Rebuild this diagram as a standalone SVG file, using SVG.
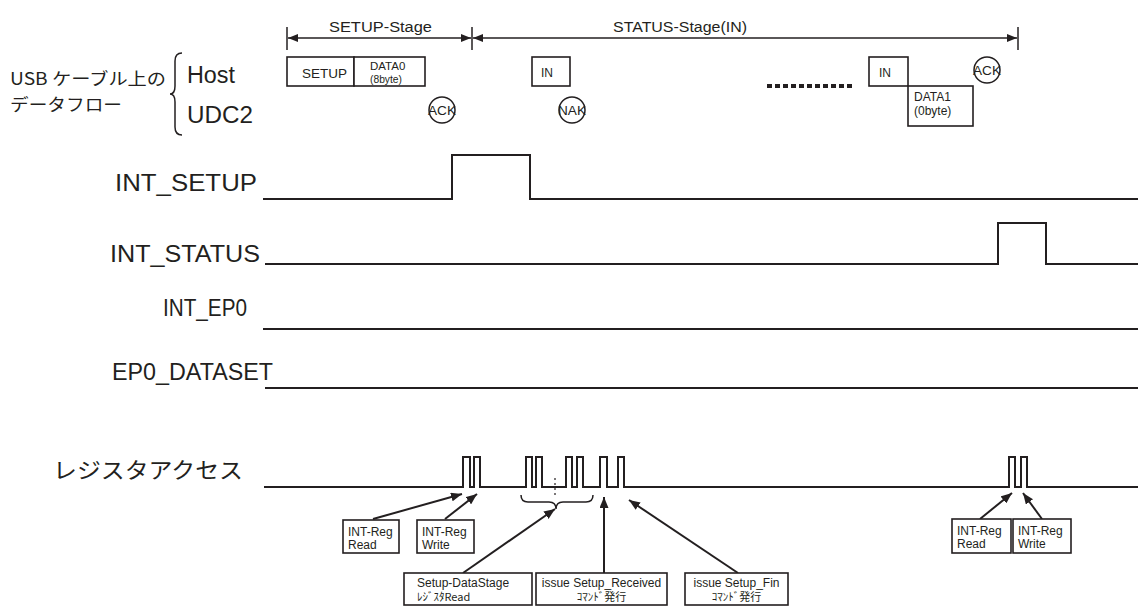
<svg xmlns="http://www.w3.org/2000/svg" width="1140" height="606" viewBox="0 0 1140 606">
<style>
.t{font-family:"Liberation Sans","Noto Sans CJK JP",sans-serif;fill:#231f20}
.jp{font-family:"Noto Sans CJK JP","Liberation Sans",sans-serif;fill:#231f20}
.ln{fill:none;stroke:#231f20;stroke-width:2}
.box{fill:#fff;stroke:#231f20;stroke-width:1.6}
.thin{fill:none;stroke:#231f20;stroke-width:1.5}
.arr{fill:none;stroke:#231f20;stroke-width:2}
</style>
<defs>
<marker id="ah" markerUnits="userSpaceOnUse" markerWidth="11" markerHeight="8" refX="10" refY="4" orient="auto-start-reverse"><path d="M0,0 L10,4 L0,8 z" fill="#231f20"/></marker>
<marker id="ab" markerUnits="userSpaceOnUse" markerWidth="12" markerHeight="9" refX="11" refY="4.5" orient="auto"><path d="M0,0 L11,4.5 L0,9 z" fill="#231f20"/></marker>
</defs>
<rect width="1140" height="606" fill="#fff"/>

<g id="stage-arrows">
<line class="thin" x1="287" y1="27" x2="287" y2="50"/>
<line class="thin" x1="472" y1="27" x2="472" y2="50"/>
<line class="thin" x1="1018" y1="27" x2="1018" y2="50"/>
<line class="thin" x1="288" y1="38" x2="471" y2="38" marker-start="url(#ah)" marker-end="url(#ah)"/>
<line class="thin" x1="473" y1="38" x2="1017" y2="38" marker-start="url(#ah)" marker-end="url(#ah)"/>
<text class="t" x="329" y="32" font-size="15.5" textLength="103" lengthAdjust="spacingAndGlyphs">SETUP-Stage</text>
<text class="t" x="613" y="32" font-size="15.5" textLength="134" lengthAdjust="spacingAndGlyphs">STATUS-Stage(IN)</text>
</g>

<g id="dataflow-label">
<text class="jp" x="10" y="85" font-size="17" textLength="156" lengthAdjust="spacingAndGlyphs">USB ケーブル上の</text>
<text class="jp" x="10" y="111" font-size="17" textLength="112" lengthAdjust="spacingAndGlyphs">データフロー</text>
<path class="thin" d="M182,53 Q175,53 175,61 L175,86 Q175,94 170,94 Q175,94 175,102 L175,127 Q175,135 182,135"/>
<text class="t" x="187" y="83" font-size="23" textLength="48" lengthAdjust="spacingAndGlyphs">Host</text>
<text class="t" x="187" y="123" font-size="23" textLength="66" lengthAdjust="spacingAndGlyphs">UDC2</text>
</g>

<g id="pkt-setup">
<rect class="box" x="287" y="57" width="67" height="29"/>
<text class="t" x="302" y="78" font-size="13" textLength="45" lengthAdjust="spacingAndGlyphs">SETUP</text>
</g>
<g id="pkt-data0">
<rect class="box" x="354" y="57" width="71" height="29"/>
<text class="t" x="370" y="70" font-size="11.5">DATA0</text>
<text class="t" x="370" y="83" font-size="11.5" textLength="32" lengthAdjust="spacingAndGlyphs">(8byte)</text>
</g>
<g id="hs-ack1">
<circle class="thin" cx="442" cy="110" r="13"/>
<text class="t" x="442" y="115" font-size="13" text-anchor="middle" textLength="28" lengthAdjust="spacingAndGlyphs">ACK</text>
</g>
<g id="pkt-in1">
<rect class="box" x="532" y="57" width="38" height="29"/>
<text class="t" x="541" y="77" font-size="12">IN</text>
</g>
<g id="hs-nak">
<circle class="thin" cx="572" cy="110" r="13"/>
<text class="t" x="572" y="115" font-size="13" text-anchor="middle" textLength="28" lengthAdjust="spacingAndGlyphs">NAK</text>
</g>
<g id="dots">
<line x1="767" y1="86" x2="855" y2="86" stroke="#231f20" stroke-width="4" stroke-dasharray="5 3"/>
</g>
<g id="pkt-in2">
<rect class="box" x="869" y="57" width="39" height="29"/>
<text class="t" x="879" y="77" font-size="12">IN</text>
</g>
<g id="pkt-data1">
<rect class="box" x="908" y="86" width="65" height="40"/>
<text class="t" x="914" y="101" font-size="12">DATA1</text>
<text class="t" x="914" y="115" font-size="12">(0byte)</text>
</g>
<g id="hs-ack2">
<circle class="thin" cx="987" cy="70" r="13"/>
<text class="t" x="987" y="75" font-size="13" text-anchor="middle" textLength="28" lengthAdjust="spacingAndGlyphs">ACK</text>
</g>

<g id="signal-labels">
<text class="t" x="115" y="191" font-size="23" textLength="142" lengthAdjust="spacingAndGlyphs">INT_SETUP</text>
<text class="t" x="110" y="262" font-size="23" textLength="150" lengthAdjust="spacingAndGlyphs">INT_STATUS</text>
<text class="t" x="163" y="316" font-size="23" textLength="84" lengthAdjust="spacingAndGlyphs">INT_EP0</text>
<text class="t" x="112" y="380" font-size="23" textLength="161" lengthAdjust="spacingAndGlyphs">EP0_DATASET</text>
<text class="jp" x="53" y="478" font-size="22" textLength="190" lengthAdjust="spacingAndGlyphs">レジスタアクセス</text>
</g>

<g id="waveforms">
<path class="ln" d="M263,199 H452 V155 H530 V199 H1138"/>
<path class="ln" d="M265,264 H998 V223 H1046 V264 H1138"/>
<path class="ln" d="M263,329 H1138"/>
<path class="ln" d="M265,388 H1138"/>
<path class="ln" d="M264,487 H463 V457 H470 V487 H474 V457 H480 V487 H526 V457 H532 V487 H536 V457 H542 V487 H566 V457 H572 V487 H577 V457 H583 V487 H600 V457 H607 V487 H618 V457 H624 V487 H1009 V457 H1015 V487 H1021 V457 H1027 V487 H1138"/>
<line x1="555" y1="478" x2="555" y2="498" stroke="#231f20" stroke-width="1.2" stroke-dasharray="2 3"/>
<path class="thin" d="M521,495 Q521,502 528,502 L549,502 Q556,502 556,509 Q556,502 563,502 L586,502 Q593,502 593,495"/>
</g>

<g id="connectors">
<line class="arr" x1="373" y1="519" x2="462" y2="494" marker-end="url(#ab)"/>
<line class="arr" x1="445" y1="519" x2="477" y2="494" marker-end="url(#ab)"/>
<line class="arr" x1="463" y1="573" x2="555" y2="509" marker-end="url(#ab)"/>
<line class="arr" x1="604" y1="573" x2="604" y2="497" marker-end="url(#ab)"/>
<line class="arr" x1="738" y1="573" x2="629" y2="500" marker-end="url(#ab)"/>
<line class="arr" x1="980" y1="519" x2="1012" y2="493" marker-end="url(#ab)"/>
<line class="arr" x1="1042" y1="519" x2="1023" y2="493" marker-end="url(#ab)"/>
</g>

<g id="lbl-intreg-read1">
<rect class="box" x="343" y="520" width="56" height="33"/>
<text class="t" x="348" y="536" font-size="12">INT-Reg</text>
<text class="t" x="348" y="549" font-size="12">Read</text>
</g>
<g id="lbl-intreg-write1">
<rect class="box" x="417" y="520" width="57" height="33"/>
<text class="t" x="422" y="536" font-size="12">INT-Reg</text>
<text class="t" x="422" y="549" font-size="12">Write</text>
</g>
<g id="lbl-setup-datastage">
<rect class="box" x="404" y="573" width="128" height="32"/>
<text class="t" x="417" y="587" font-size="12">Setup-DataStage</text>
<text class="jp" x="417" y="601" font-size="11">ﾚｼﾞｽﾀRead</text>
</g>
<g id="lbl-setup-received">
<rect class="box" x="536" y="573" width="131" height="32"/>
<text class="t" x="601.5" y="587" font-size="12" text-anchor="middle">issue Setup_Received</text>
<text class="jp" x="601.5" y="601" font-size="11" text-anchor="middle">ｺﾏﾝﾄﾞ発行</text>
</g>
<g id="lbl-setup-fin">
<rect class="box" x="685" y="573" width="103" height="32"/>
<text class="t" x="736.5" y="587" font-size="12" text-anchor="middle">issue Setup_Fin</text>
<text class="jp" x="736.5" y="601" font-size="11" text-anchor="middle">ｺﾏﾝﾄﾞ発行</text>
</g>
<g id="lbl-intreg-read2">
<rect class="box" x="952" y="519" width="59" height="34"/>
<text class="t" x="957" y="535" font-size="12">INT-Reg</text>
<text class="t" x="957" y="548" font-size="12">Read</text>
</g>
<g id="lbl-intreg-write2">
<rect class="box" x="1013" y="519" width="58" height="34"/>
<text class="t" x="1018" y="535" font-size="12">INT-Reg</text>
<text class="t" x="1018" y="548" font-size="12">Write</text>
</g>
</svg>
